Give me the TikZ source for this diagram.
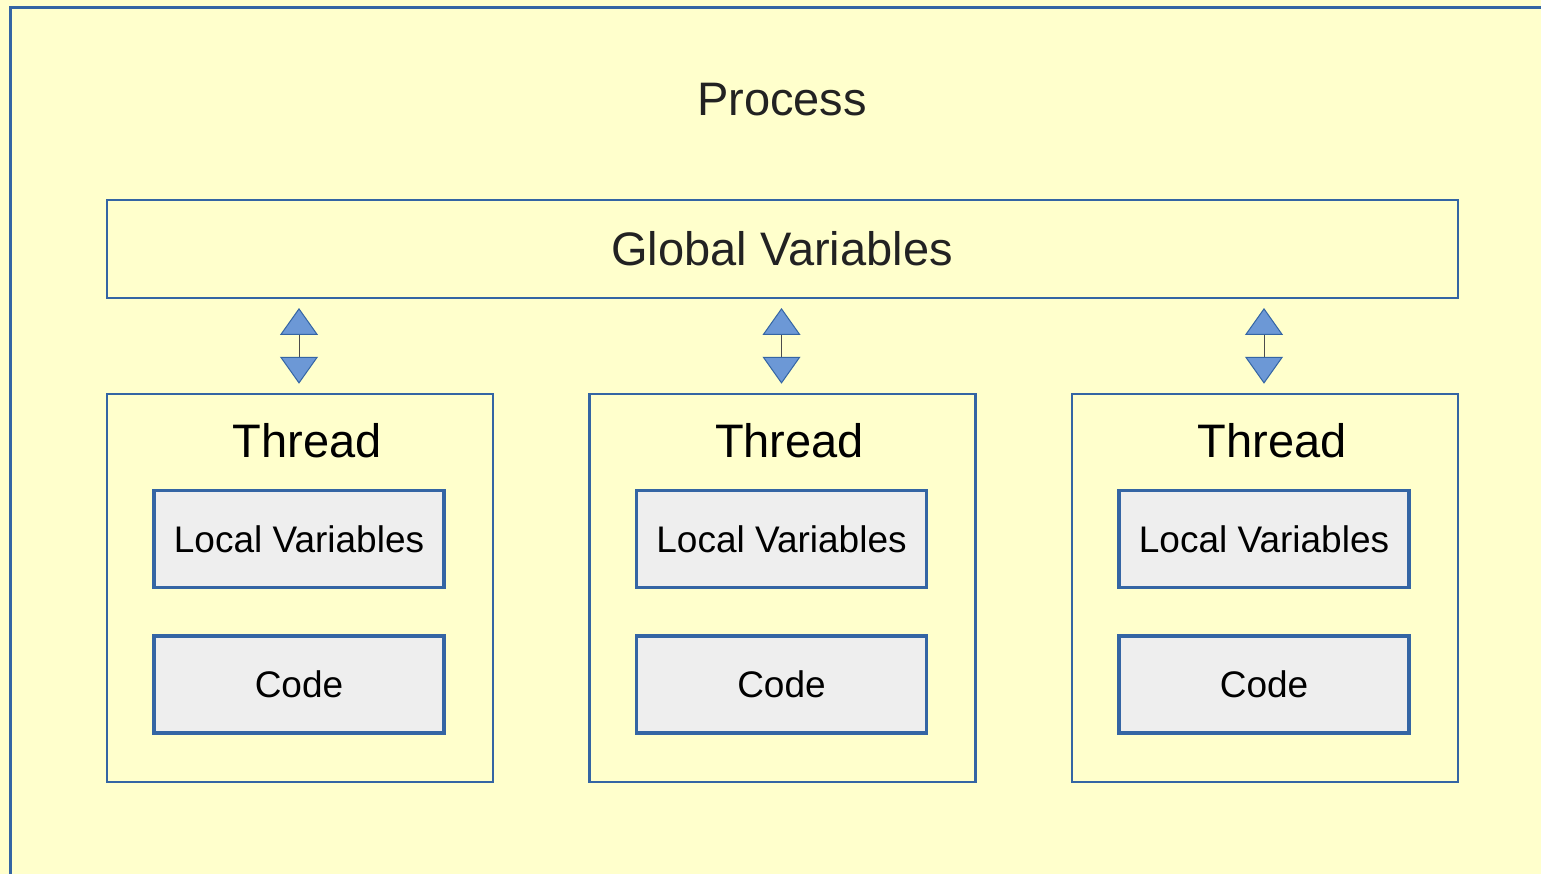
\documentclass[tikz,border=0pt]{standalone}
\usepackage{fontspec}
\setmainfont{Liberation Sans}
\usetikzlibrary{arrows.meta}
\definecolor{bgy}{HTML}{FFFFCC}
\definecolor{bord}{HTML}{3465A4}
\definecolor{inner}{HTML}{EEEEEE}
\definecolor{tipfill}{RGB}{108,152,214}
\definecolor{txt}{HTML}{222222}
\tikzset{
  x=1pt, y=-1pt,
  bigtext/.style={font=\fontsize{47}{56}\selectfont, text=txt, inner sep=0pt},
  threadtext/.style={font=\fontsize{47}{56}\selectfont, text=black, inner sep=0pt},
  smalltext/.style={font=\fontsize{37}{44}\selectfont, text=black},
  gbox/.style={draw=bord, line width=2pt, minimum width=1351pt, minimum height=98pt, inner sep=0pt},
  tbox/.style={draw=bord, line width=2.5pt, minimum width=386pt, minimum height=388pt, inner sep=0pt},
  ibox/.style={draw=bord, fill=inner, line width=3.2pt, minimum width=290pt, minimum height=97pt, inner sep=0pt, smalltext},
  dbl/.style={draw=black!70, line width=1pt,
    {Triangle[width=38pt,length=27pt,fill=tipfill,color=bord,line width=1pt]}-{Triangle[width=38pt,length=27pt,fill=tipfill,color=bord,line width=1pt]},
    shorten <=9pt, shorten >=9pt}
}
\begin{document}
\begin{tikzpicture}
\useasboundingbox (0,0) rectangle (1541,874);
\clip (0,0) rectangle (1541,874);
\fill[bgy] (0,0) rectangle (1541,874);
\draw[bord, line width=3pt, fill=bgy] (10.5,7.5) rectangle (1600,950);
\node[bigtext] (proc) at (782,100) {Process};
\node[gbox] (glob) at (782.5,249) {};
\node[bigtext] (globt) at (782,249) {Global Variables};
\foreach \i/\cx in {1/300,2/782.5,3/1265}{
  \node[tbox] (t\i) at (\cx,588) {};
  \node[threadtext] (tt\i) at (\cx+7,441) {Thread};
  \node[ibox] (lv\i) at (\cx-1,539) {Local Variables};
  \node[ibox] (cd\i) at (\cx-1,684.5) {Code};
  \draw[dbl] (t\i.north -| lv\i.north) -- (glob.south -| lv\i.north);
}
\end{tikzpicture}
\end{document}
